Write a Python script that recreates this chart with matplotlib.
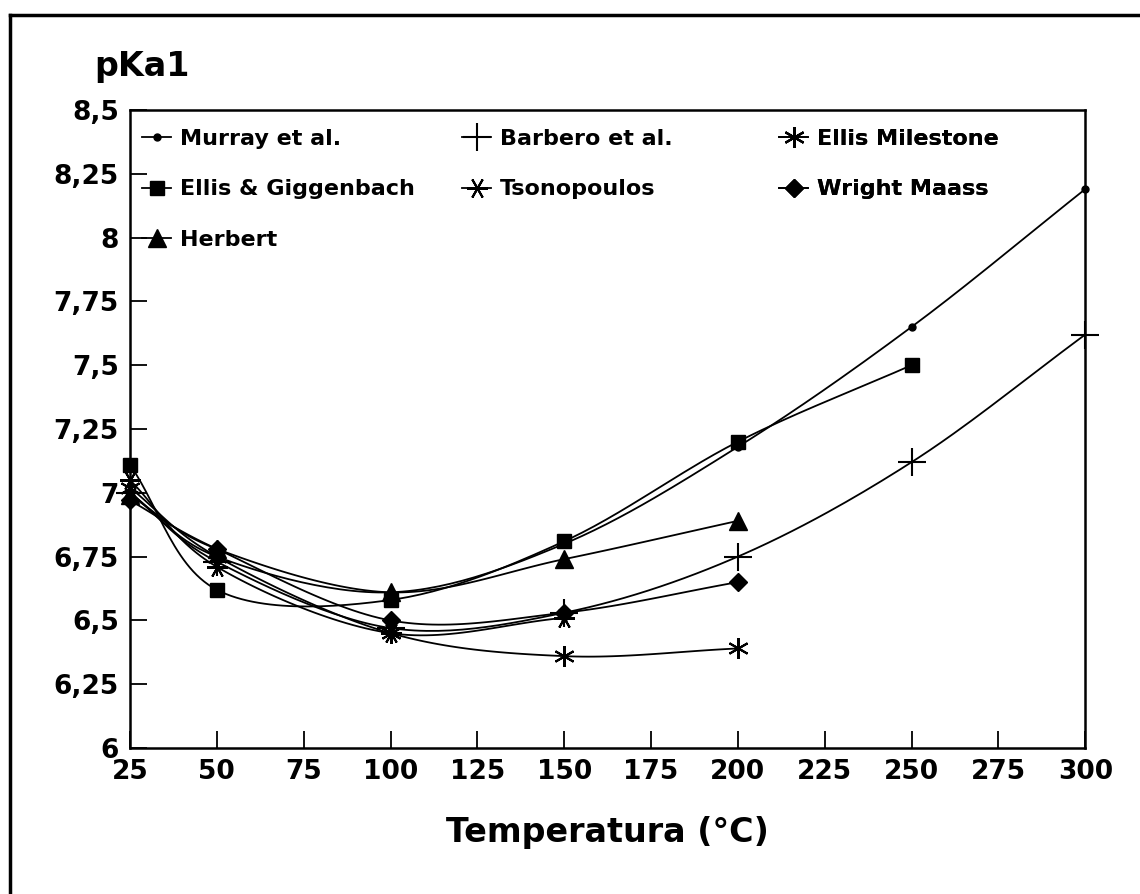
import numpy as np
import matplotlib
matplotlib.use("Agg")
import matplotlib.pyplot as plt
from matplotlib.lines import Line2D
from matplotlib.ticker import FuncFormatter

# values
temp_murray = [25, 50, 100, 150, 200, 250, 300]
pka_murray = [7.00, 6.75, 6.61, 6.80, 7.18, 7.65, 8.19]

temp_giggen = [25, 50, 100, 150, 200, 250]
pka_giggen = [7.11, 6.62, 6.58, 6.81, 7.20, 7.50]

temp_herbert = [25, 50, 100, 150, 200]
pka_herbert = [6.99, 6.78, 6.61, 6.74, 6.89]

temp_barbero = [25, 50, 100, 150, 200, 250, 300]
pka_barbero = [7.00, 6.73, 6.47, 6.53, 6.75, 7.12, 7.62]

temp_tsono = [25, 50, 100, 150]
pka_tsono = [7.05, 6.71, 6.45, 6.51]

temp_milestone = [25, 50, 100, 150, 200]
pka_milestone = [7.02, 6.75, 6.45, 6.36, 6.39]

temp_wright = [25, 50, 100, 150, 200]
pka_wright = [6.97, 6.78, 6.50, 6.53, 6.65]

x_ticks = [25, 50, 75, 100, 125, 150, 175, 200, 225, 250, 275, 300]
y_ticks = [6, 6.25, 6.5, 6.75, 7, 7.25, 7.5, 7.75, 8, 8.25, 8.5]


def smooth(x, y, n=30):
    # catmull-rom curve through the points, like a "smoothed line" chart
    x = np.asarray(x, float)
    y = np.asarray(y, float)
    px = np.concatenate([[2 * x[0] - x[1]], x, [2 * x[-1] - x[-2]]])
    py = np.concatenate([[2 * y[0] - y[1]], y, [2 * y[-1] - y[-2]]])
    xs, ys = [], []
    t = np.linspace(0, 1, n)
    for i in range(1, len(px) - 2):
        for p, out in ((px, xs), (py, ys)):
            p0, p1, p2, p3 = p[i - 1], p[i], p[i + 1], p[i + 2]
            seg = 0.5 * ((2 * p1) + (-p0 + p2) * t
                         + (2 * p0 - 5 * p1 + 4 * p2 - p3) * t ** 2
                         + (-p0 + 3 * p1 - 3 * p2 + p3) * t ** 3)
            out.extend(seg)
    return np.array(xs), np.array(ys)


fig = plt.figure(figsize=(11.4, 8.94), dpi=100)
ax = fig.add_axes([0.114, 0.1633, 0.838, 0.7137])

series = [
    (temp_murray, pka_murray, "Murray et al.", dict(marker="o", ms=5)),
    (temp_giggen, pka_giggen, "Ellis & Giggenbach", dict(marker="s", ms=10)),
    (temp_herbert, pka_herbert, "Herbert", dict(marker="^", ms=13)),
    (temp_barbero, pka_barbero, "Barbero et al.", dict(marker="+", ms=20, mew=1.5)),
    (temp_tsono, pka_tsono, "Tsonopoulos", dict(marker=(6, 2, 90), ms=15, mew=1.5)),
    (temp_milestone, pka_milestone, "Ellis Milestone", dict(marker=(6, 2, 0), ms=15, mew=1.5)),
    (temp_wright, pka_wright, "Wright Maass", dict(marker="D", ms=9)),
]

handles = []
for x, y, name, mk in series:
    sx, sy = smooth(x, y)
    ax.plot(sx, sy, color="black", lw=1.3)
    ax.plot(x, y, linestyle="none", color="black", mfc="black", mec="black",
            clip_on=False, **mk)
    handles.append(Line2D([], [], color="black", lw=1.3, mfc="black", mec="black", **mk))

ax.set_xlim(25, 300)
ax.set_ylim(6, 8.5)
ax.set_xticks(x_ticks)
ax.set_yticks(y_ticks)
ax.yaxis.set_major_formatter(FuncFormatter(lambda v, p: ("%g" % v).replace(".", ",")))
ax.tick_params(direction="in", length=12, width=1.3, labelsize=19, pad=8)
for lab in ax.get_xticklabels() + ax.get_yticklabels():
    lab.set_fontweight("bold")
for s in ax.spines.values():
    s.set_linewidth(1.8)

ax.set_xlabel("Temperatura (°C)", fontsize=24, fontweight="bold", labelpad=22)
fig.text(0.083, 0.915, "pKa1", fontsize=24, fontweight="bold")

# legend laid out in three columns, filled row by row
cols = [[0, 1, 2], [3, 4], [5, 6]]
col_x = [0.0, 0.335, 0.667]
for ci, idx in enumerate(cols):
    leg = ax.legend([handles[i] for i in idx], [series[i][2] for i in idx],
                    loc="upper left", bbox_to_anchor=(col_x[ci], 0.989),
                    frameon=False, handlelength=1.3, handletextpad=0.4,
                    labelspacing=1.36, borderaxespad=0.15,
                    prop=dict(size=16, weight="bold"))
    ax.add_artist(leg)

# outer frame lines
fig.add_artist(Line2D([0.009, 1.0], [0.983, 0.983], color="black", lw=2.5))
fig.add_artist(Line2D([0.009, 0.009], [0.0, 0.983], color="black", lw=2.5))

fig.savefig("out.png", dpi=100)
